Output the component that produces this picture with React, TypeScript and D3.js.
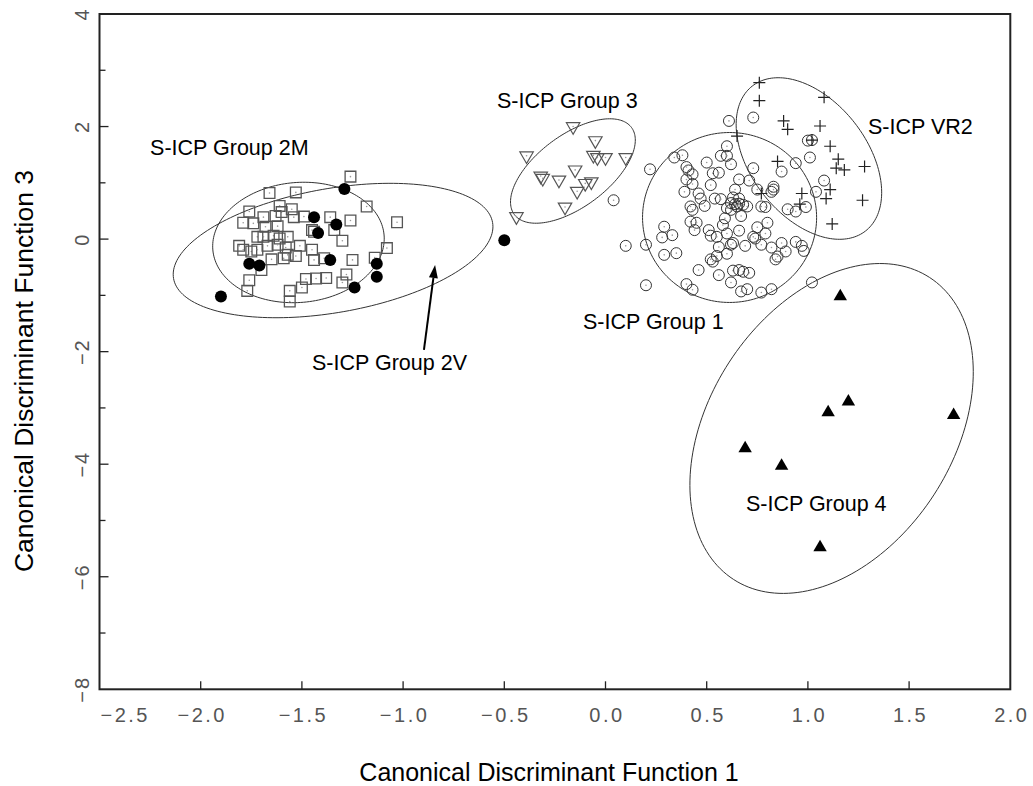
import React from "react";
import * as d3 from "d3";

// ---------- data (canonical discriminant scores) ----------
const xTicks = [-2.5, -2.0, -1.5, -1.0, -0.5, 0.0, 0.5, 1.0, 1.5, 2.0];
const yMajorTicks = [-8, -6, -4, -2, 0, 2, 4];
const yMinorTicks = [-7, -5, -3, -1, 1, 3];

// S-ICP Group 1 (open circles)
const group1: [number, number][] = [
  [0.73, 2.16], [0.61, 2.10], [0.60, 1.65], [0.57, 1.48], [0.60, 1.48], [0.34, 1.45], [0.38, 1.49],
  [0.22, 1.24], [0.50, 1.36], [0.62, 1.33], [0.40, 1.28], [0.41, 1.22], [0.73, 1.26], [0.53, 1.17],
  [0.56, 1.18], [0.43, 1.15], [0.40, 1.06], [0.66, 1.06], [0.71, 1.04], [0.52, 0.96], [0.43, 0.98],
  [0.64, 0.88], [0.75, 0.88], [0.83, 0.88], [0.82, 0.84], [0.39, 0.84], [0.46, 0.81], [0.54, 0.72],
  [0.57, 0.71], [0.47, 0.72], [0.63, 0.74], [0.66, 0.72], [0.68, 0.61], [0.70, 0.58], [0.77, 0.58],
  [0.79, 0.57], [0.42, 0.58], [0.43, 0.52], [0.49, 0.59], [0.62, 0.64], [0.65, 0.58], [0.62, 0.52],
  [0.90, 0.53], [0.94, 0.49], [0.99, 0.57], [1.04, 0.84], [1.08, 1.04], [1.01, 1.45], [0.94, 1.35],
  [0.87, 1.20], [1.00, 1.75], [1.02, 1.76], [0.83, 0.93], [0.67, 0.41], [0.59, 0.37], [0.42, 0.31],
  [0.45, 0.29], [0.58, 0.25], [0.75, 0.21], [0.80, 0.29], [0.29, 0.22], [0.28, 0.03], [0.33, 0.07],
  [0.44, 0.16], [0.51, 0.16], [0.52, 0.06], [0.55, 0.04], [0.60, 0.10], [0.66, 0.15], [0.73, 0.04],
  [0.74, 0.01], [0.79, 0.10], [0.94, -0.05], [0.97, -0.12], [0.63, -0.07], [0.62, -0.10], [0.56, -0.14],
  [0.60, -0.26], [0.69, -0.12], [0.77, -0.10], [0.82, -0.15], [0.87, -0.07], [0.89, -0.22], [0.85, -0.31],
  [0.84, -0.36], [0.98, -0.21], [0.20, -0.10], [0.29, -0.28], [0.35, -0.25], [0.52, -0.36], [0.53, -0.40],
  [0.55, -0.30], [0.46, -0.55], [0.56, -0.64], [0.63, -0.56], [0.66, -0.55], [0.68, -0.58], [0.71, -0.60],
  [0.62, -0.77], [0.40, -0.80], [0.43, -0.90], [0.67, -0.93], [0.70, -0.89], [0.77, -0.95], [0.82, -0.89],
  [0.20, -0.82], [1.02, -0.77], [0.04, 0.69], [0.10, -0.12], [0.64, 0.62], [0.66, 0.63], [0.60, 0.55],
];

// S-ICP Group 2M (open squares)
const group2M: [number, number][] = [
  [-1.26, 1.11], [-1.66, 0.82], [-1.53, 0.83], [-1.18, 0.58], [-1.61, 0.59], [-1.76, 0.49], [-1.55, 0.53],
  [-1.60, 0.48], [-1.49, 0.40], [-1.54, 0.39], [-1.69, 0.39], [-1.63, 0.41], [-1.36, 0.39], [-1.26, 0.33],
  [-1.79, 0.29], [-1.74, 0.28], [-1.68, 0.22], [-1.62, 0.23], [-1.45, 0.16], [-1.44, 0.13], [-1.34, 0.16],
  [-1.72, 0.04], [-1.69, 0.04], [-1.64, 0.06], [-1.61, 0.01], [-1.57, 0.04], [-1.30, -0.03], [-1.03, 0.30],
  [-1.81, -0.12], [-1.79, -0.19], [-1.75, -0.22], [-1.72, -0.19], [-1.67, -0.12], [-1.62, -0.10],
  [-1.58, -0.15], [-1.51, -0.12], [-1.45, -0.19], [-1.08, -0.16], [-1.65, -0.36], [-1.59, -0.34],
  [-1.57, -0.28], [-1.53, -0.30], [-1.44, -0.37], [-1.39, -0.34], [-1.25, -0.37], [-1.14, -0.33],
  [-1.70, -0.55], [-1.76, -0.73], [-1.48, -0.71], [-1.43, -0.70], [-1.38, -0.69], [-1.50, -0.86],
  [-1.28, -0.63], [-1.30, -0.77], [-1.77, -0.92], [-1.56, -0.92], [-1.56, -1.11],
];

// S-ICP Group 2V (filled circles)
const group2V: [number, number][] = [
  [-1.29, 0.89], [-1.44, 0.39], [-1.33, 0.26], [-1.42, 0.11], [-1.36, -0.37], [-1.76, -0.44],
  [-1.71, -0.47], [-1.13, -0.44], [-1.13, -0.67], [-1.24, -0.86], [-1.90, -1.02], [-0.50, -0.02],
];

// S-ICP Group 3 (open inverted triangles)
const group3: [number, number][] = [
  [-0.16, 2.00], [-0.05, 1.75], [-0.39, 1.48], [-0.06, 1.49], [-0.04, 1.45], [0.00, 1.45], [0.10, 1.45],
  [-0.32, 1.12], [-0.31, 1.08], [-0.23, 1.05], [-0.15, 1.23], [-0.10, 0.99], [-0.07, 1.02], [-0.14, 0.85],
  [-0.20, 0.57], [-0.44, 0.40],
];

// S-ICP VR2 (plus signs)
const groupVR2: [number, number][] = [
  [0.76, 2.78], [0.76, 2.46], [1.08, 2.52], [0.88, 2.10], [0.90, 1.95], [1.06, 2.01], [1.02, 1.76],
  [1.11, 1.65], [1.15, 1.42], [1.14, 1.26], [1.18, 1.23], [1.28, 1.29], [0.85, 1.38], [0.97, 0.81],
  [0.96, 0.62], [1.11, 0.88], [1.09, 0.72], [1.27, 0.69], [1.12, 0.27], [0.65, 1.83], [0.77, 0.81],
];

// S-ICP Group 4 (filled triangles)
const group4: [number, number][] = [
  [1.16, -1.02], [1.20, -2.89], [1.10, -3.08], [1.72, -3.13], [0.69, -3.72], [0.87, -4.03], [1.06, -5.48],
];

// group ellipses: centre and two conjugate semi-axis vectors (data units)
const ellipseNames = ["2V", "2M", "3", "1", "VR2", "4"];
const ellipseCentres: [number, number][] = [
  [-1.346, -0.203], [-1.517, -0.06], [-0.161, 1.21], [0.613, 0.384], [1.005, 1.432], [1.117, -3.365],
];
const ellipseAxisU: [number, number][] = [
  [0.788, 0.499], [0.423, 0.133], [0.2895, 0.773], [0.43, 0], [0.2797, -1.288], [0.4843, 2.683],
];
const ellipseAxisV: [number, number][] = [
  [0.0532, -1.085], [0.0258, -1.062], [0.106, -0.5135], [0, -1.51], [-0.2258, -0.634], [0.5055, -1.18],
];

// annotations
const labelTexts = ["S-ICP Group 2M", "S-ICP Group 3", "S-ICP VR2", "S-ICP Group 1", "S-ICP Group 2V", "S-ICP Group 4"];
const labelPos: [number, number][] = [
  [-2.25, 1.49], [-0.536, 2.33], [1.297, 1.866], [-0.111, -1.6], [-1.45, -2.33], [0.694, -4.83],
];
const arrowFrom: [number, number] = [-0.897, -1.97];
const arrowTo: [number, number] = [-0.842, -0.46];

const W = 1033;
const H = 786;

export default function App() {
  const x = d3.scaleLinear().domain([-2.5, 2.0]).range([99.5, 1010.3]);
  const y = d3.scaleLinear().domain([-8, 4]).range([689.3, 14]);
  const [x0, x1] = x.range();
  const [yb, yt] = y.range();

  const ts = d3.range(0, 361, 2).map((d) => (d * Math.PI) / 180);
  const line = d3.line<[number, number]>().curve(d3.curveLinearClosed);
  const ellipsePaths = ellipseCentres.map((c, i) => {
    const u = ellipseAxisU[i];
    const v = ellipseAxisV[i];
    const pts: [number, number][] = ts.map((t) => [
      x(c[0] + u[0] * Math.cos(t) + v[0] * Math.sin(t)),
      y(c[1] + u[1] * Math.cos(t) + v[1] * Math.sin(t)),
    ]);
    return line(pts) as string;
  });

  const sq = d3.symbol().type(d3.symbolSquare).size(115)() as string;
  const tri = d3.symbol().type(d3.symbolTriangle).size(78)() as string;
  const plus = "M-6,0H6M0,-6V6";

  const ax = x(arrowFrom[0]);
  const ay = y(arrowFrom[1]);
  const bx = x(arrowTo[0]);
  const by = y(arrowTo[1]);
  const ang = Math.atan2(by - ay, bx - ax);
  const hl = 13;
  const hw = 4.5;
  const baseX = bx - hl * Math.cos(ang);
  const baseY = by - hl * Math.sin(ang);
  const head = `M${bx},${by}L${baseX + hw * Math.sin(ang)},${baseY - hw * Math.cos(ang)}L${baseX - hw * Math.sin(ang)},${baseY + hw * Math.cos(ang)}Z`;

  const tickFont = "'Liberation Sans', Arial, sans-serif";

  return (
    <svg
      width={W}
      height={H}
      style={{ position: "absolute", left: 0, top: 0, background: "#fff" }}
      fontFamily="'Liberation Sans', Arial, Helvetica, sans-serif"
    >
      <rect width={W} height={H} fill="#fff" />

      {/* ellipses */}
      {ellipsePaths.map((p, i) => (
        <path key={ellipseNames[i]} d={p} fill="none" stroke="#333" strokeWidth={1} />
      ))}

      {/* group 2M squares */}
      {group2M.map((d, i) => (
        <g key={"s" + i} transform={`translate(${x(d[0])},${y(d[1])})`}>
          <path d={sq} fill="none" stroke="#555" strokeWidth={1.3} />
          <circle r={0.8} fill="#999" />
        </g>
      ))}

      {/* group 2V filled circles */}
      {group2V.map((d, i) => (
        <circle key={"f" + i} cx={x(d[0])} cy={y(d[1])} r={6} fill="#000" />
      ))}

      {/* group 3 inverted triangles */}
      {group3.map((d, i) => (
        <g key={"t" + i} transform={`translate(${x(d[0])},${y(d[1])})`}>
          <path d={tri} transform="rotate(180)" fill="none" stroke="#555" strokeWidth={1.2} />
          <circle r={0.8} fill="#999" />
        </g>
      ))}

      {/* group 1 open circles */}
      {group1.map((d, i) => (
        <g key={"c" + i} transform={`translate(${x(d[0])},${y(d[1])})`}>
          <circle r={5.5} fill="none" stroke="#333" strokeWidth={1} />
          <circle r={0.8} fill="#999" />
        </g>
      ))}

      {/* VR2 plus signs */}
      {groupVR2.map((d, i) => (
        <path key={"p" + i} d={plus} transform={`translate(${x(d[0])},${y(d[1])})`} stroke="#222" strokeWidth={1.2} fill="none" />
      ))}

      {/* group 4 filled triangles */}
      {group4.map((d, i) => (
        <path key={"g4" + i} d={tri} transform={`translate(${x(d[0])},${y(d[1])})`} fill="#000" />
      ))}

      {/* frame */}
      <rect x={x0} y={yt} width={x1 - x0} height={yb - yt} fill="none" stroke="#222" strokeWidth={2} />

      {/* x ticks */}
      {xTicks.slice(1, -1).map((t) => (
        <line key={"xt" + t} x1={x(t)} x2={x(t)} y1={yb} y2={yb - 8} stroke="#222" strokeWidth={1.3} />
      ))}
      {xTicks.map((t, i) => (
        <text
          key={"xl" + t}
          x={i === 0 ? x(t) + 1 : x(t) + 1.5}
          y={722}
          textAnchor={i === 0 ? "start" : "middle"}
          fontSize={20}
          letterSpacing={2.5}
          fill="#555"
          fontFamily={tickFont}
        >
          {d3.format(".1f")(t).replace("-", "\u2212")}
        </text>
      ))}

      {/* y ticks */}
      {yMajorTicks.slice(1, -1).map((t) => (
        <line key={"yt" + t} x1={x0} x2={x0 + 9} y1={y(t)} y2={y(t)} stroke="#222" strokeWidth={1.3} />
      ))}
      {yMinorTicks.map((t) => (
        <line key={"ym" + t} x1={x0} x2={x0 + 6} y1={y(t)} y2={y(t)} stroke="#222" strokeWidth={1.3} />
      ))}
      {yMajorTicks.map((t) => (
        <text
          key={"yl" + t}
          transform={`translate(89,${y(t)}) rotate(-90)`}
          textAnchor="middle"
          fontSize={20}
          letterSpacing={2}
          fill="#555"
          fontFamily={tickFont}
        >
          {String(t).replace("-", "\u2212")}
        </text>
      ))}

      {/* axis titles */}
      <text x={549} y={781} textAnchor="middle" fontSize={25} fill="#000">
        Canonical Discriminant Function 1
      </text>
      <text transform={`translate(33,371) rotate(-90)`} textAnchor="middle" fontSize={26.5} fill="#000">
        Canonical Discriminant Function 3
      </text>

      {/* group labels */}
      {labelTexts.map((s, i) => (
        <text key={s} x={x(labelPos[i][0])} y={y(labelPos[i][1])} fontSize={21.5} fill="#000">
          {s}
        </text>
      ))}

      {/* arrow */}
      <line x1={ax} y1={ay} x2={baseX} y2={baseY} stroke="#000" strokeWidth={2} />
      <path d={head} fill="#000" />
    </svg>
  );
}
